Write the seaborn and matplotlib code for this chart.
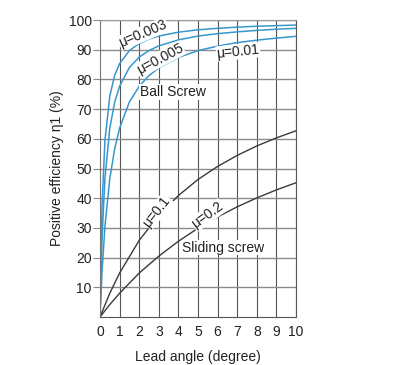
import numpy as np
import pandas as pd
import matplotlib
matplotlib.use("Agg")
import matplotlib.pyplot as plt
import seaborn as sns

# lead angle (deg) samples
ball_angle = [0, 0.1, 0.25, 0.5, 0.75, 1, 1.5, 2, 2.5, 3, 4, 5, 6, 7, 8, 9, 10]
mu_0003 = [0, 36.8, 59.3, 74.4, 81.4, 85.3, 89.7, 92.1, 93.6, 94.6, 95.9, 96.7, 97.2, 97.6, 97.9, 98.1, 98.3]
mu_0005 = [0, 25.9, 46.6, 63.6, 72.4, 77.7, 84.0, 87.5, 89.7, 91.3, 93.3, 94.6, 95.4, 96.0, 96.5, 96.9, 97.2]
mu_001 = [0, 14.9, 30.4, 46.6, 56.7, 63.6, 72.4, 77.7, 81.3, 83.9, 87.4, 89.7, 91.2, 92.4, 93.2, 93.9, 94.5]

slide_angle = [0, 0.5, 1, 2, 3, 4, 5, 6, 7, 8, 9, 10]
mu_01 = [0, 8.0, 14.8, 25.8, 34.2, 40.9, 46.3, 50.7, 54.4, 57.6, 60.3, 62.7]
mu_02 = [0, 4.2, 8.0, 14.8, 20.5, 25.5, 29.9, 33.7, 37.1, 40.1, 42.8, 45.2]

x_ticks = list(range(0, 11))
y_ticks = list(range(10, 101, 10))

sns.set_style("white")
plt.rcParams['font.family'] = ['Liberation Sans', 'DejaVu Sans']

fig = plt.figure(figsize=(4.04, 3.65), dpi=100)
ax = fig.add_axes([100 / 404, 48 / 365, 196 / 404, 297 / 365])

blue = '#3896ce'
dark = '#3a3a3a'

for vals in [mu_0003, mu_0005, mu_001]:
    sns.lineplot(x=ball_angle, y=vals, color=blue, linewidth=1.1, ax=ax)
for vals in [mu_01, mu_02]:
    sns.lineplot(x=slide_angle, y=vals, color=dark, linewidth=1.0, ax=ax)

ax.set_xlim(0, 10)
ax.set_ylim(0, 100)
ax.set_xticks(x_ticks)
ax.set_yticks(y_ticks)

# grid
for xv in x_ticks[1:]:
    ax.axvline(xv, color='#555555', lw=0.8, zorder=0)
for yv in y_ticks:
    ax.axhline(yv, color='#8a8a8a', lw=1.0, zorder=0)

for s in ax.spines.values():
    s.set_color('#555555')
    s.set_linewidth(0.8)
ax.spines['top'].set_color('#9a9a9a')
ax.spines['left'].set_color('#777777')

ax.tick_params(axis='x', length=0, pad=6, labelsize=10, colors='#222222')
ax.tick_params(axis='y', length=5, width=0.8, color='#8a8a8a', pad=1,
               labelsize=10, labelcolor='#222222', left=True)

ax.set_xlabel('Lead angle (degree)', fontsize=10, color='#222222', labelpad=8)
ax.set_ylabel('Positive efficiency η1 (%)', fontsize=10, color='#222222', labelpad=3)

box = dict(facecolor='white', edgecolor='none', pad=0.5)
lab = dict(fontsize=10, color='#222222', ha='center', va='center')
ax.text(2.2, 95.4, 'μ=0.003', rotation=23, bbox=box, **lab)
ax.text(3.05, 86.8, 'μ=0.005', rotation=28, bbox=box, **lab)
ax.text(7.05, 89.3, 'μ=0.01', rotation=6, bbox=box, **lab)
ax.text(3.7, 75.8, 'Ball Screw', bbox=box, **lab)
ax.text(2.9, 35.5, 'μ=0.1', rotation=52, bbox=box, **lab)
ax.text(5.5, 34.3, 'μ=0.2', rotation=36, bbox=box, **lab)
ax.text(6.3, 23.3, 'Sliding screw', bbox=box, **lab)

fig.savefig('out.png', dpi=100)
